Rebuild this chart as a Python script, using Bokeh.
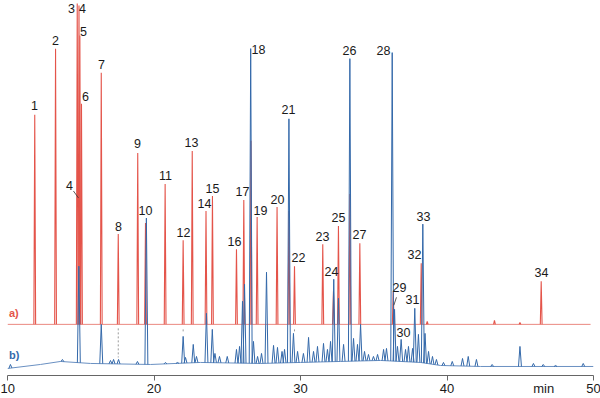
import numpy as np
from bokeh.plotting import figure
from bokeh.models import FixedTicker, LinearAxis
from bokeh.core.properties import value
from bokeh.embed import file_html
from bokeh.resources import INLINE

# ---------------- data (retention time in min, detector signal in arbitrary units) -------------
# chromatogram a) (red), peaks above its own baseline
red_base = 51
red_t = [11.86, 13.28, 14.76, 14.88, 14.94, 15.05, 16.40, 17.56, 18.89, 19.42, 20.76, 21.99,
         22.61, 23.55, 23.99, 25.63, 26.13, 26.62, 27.04, 28.40, 29.21, 29.59, 31.52, 32.25,
         32.59, 33.37, 34.05, 36.33, 38.24, 38.65, 43.24, 44.98, 46.43]
red_h = [209, 275, 320, 318, 288, 220, 251, 90, 171, 101, 140, 84,
         173, 113, 128, 75, 124, 183, 107, 117, 113, 58, 80, 33,
         98, 130, 81, 33, 61, 3, 4, 2, 43]
red_end = 49.8

# chromatogram b) (blue): drifting baseline and peak apex levels
blue_base_t = [10.0, 12.25, 13.62, 15.67, 19.76, 23.17, 27.27, 30.0, 32.73, 35.46, 38.19, 39.56, 42.29, 50.0]
blue_base_y = [7, 11, 14, 12, 11, 13, 12, 13, 14, 15, 13, 10, 9, 9]
blue_t = [10.2, 13.75, 14.87, 16.40, 17.03, 17.24, 17.58, 18.87, 19.48, 20.78, 21.6, 21.99,
          22.15, 22.68, 22.9, 23.58, 23.98, 24.16, 24.47, 25.0, 25.63, 25.84, 26.04, 26.18,
          26.60, 26.79, 27.07, 27.34, 27.68, 28.16, 28.43, 28.74, 28.91, 29.21, 29.52, 29.8,
          30.2, 30.55, 30.89, 31.16, 31.57, 31.84, 32.05, 32.27, 32.59, 32.94, 33.37, 33.62,
          33.89, 34.10, 34.37, 34.64, 34.98, 35.26, 35.67, 35.87, 36.26, 36.42, 36.62, 36.87,
          37.17, 37.37, 37.65, 37.80, 38.05, 38.35, 38.5, 38.74, 39.01, 39.28, 39.76, 40.36,
          41.06, 41.45, 42.01, 43.08, 44.98, 45.9, 46.57, 47.41, 49.30]
blue_apex = [11, 16, 109, 51, 15, 16, 16, 14, 157, 13, 13, 39,
             18, 31, 19, 62, 46, 22, 19, 19, 26, 29, 74, 91,
             326, 34, 19, 22, 103, 30, 28, 24, 26, 256, 42, 24,
             22, 38, 24, 29, 32, 26, 34, 96, 77, 31, 316, 37,
             31, 51, 24, 21, 19, 21, 26, 27, 322, 66, 29, 36,
             26, 29, 27, 67, 41, 151, 42, 24, 19, 16, 13, 14,
             17, 19, 16, 11, 29, 12, 11, 10, 12]

# peak labels
label_text = ["1", "2", "3", "4", "5", "6", "4", "7", "8", "9", "10", "11", "12", "13", "14", "15",
              "16", "17", "18", "19", "20", "21", "22", "23", "24", "25", "26", "27", "28", "29",
              "30", "31", "32", "33", "34"]
label_t = [11.84, 13.28, 14.37, 15.12, 15.19, 15.32, 14.23, 16.42, 17.58, 18.87, 19.42, 20.78,
           22.01, 22.56, 23.45, 23.99, 25.49, 26.04, 27.13, 27.27, 28.43, 29.18, 29.86, 31.50,
           32.12, 32.59, 33.34, 34.03, 35.67, 36.76, 37.03, 37.65, 37.78, 38.40, 46.45]
label_y = [269, 334, 366, 366, 343, 278, 189, 310, 149, 231, 165, 199,
           143, 232, 172, 187, 134, 184, 325, 165, 176, 265, 118, 139,
           104, 158, 324, 141, 324, 88, 43, 76, 121, 159, 103]

# leader lines (peak 4 and peak 29) and dashed markers between traces
leader_x0 = [14.50, 36.55]
leader_y0 = [184, 78]
leader_x1 = [14.85, 36.37]
leader_y1 = [177, 70]
mark_t = [17.56, 21.99, 29.59]
mark_y0 = [47, 44, 44]
mark_y1 = [18, 48, 48]

ticks = [10, 20, 30, 40, 50]
unit_pos = 46.6
unit_text = "min"

RED = "#e4544a"
RED_LIGHT = "#ea8880"
BLUE = "#3469aa"
BLUE_LIGHT = "#6a90c2"
FONT = "Liberation Sans"

p = figure(width=600, height=398, x_range=(10, 50), y_range=(0, 374),
           output_backend="svg", toolbar_location=None, y_axis_location=None,
           x_axis_location=None,
           min_border_left=7, min_border_right=7, min_border_top=0, min_border_bottom=20)
p.grid.visible = False
p.outline_line_color = None

# red trace
w_r = 0.06
p.line([10.0, red_end], [red_base, red_base], line_color=RED_LIGHT, line_width=1)
p.multi_line([[t - w_r, t, t + w_r] for t in red_t],
             [[red_base, red_base + h, red_base] for h in red_h],
             line_color=RED, line_width=1.1)

# blue trace
w_b = 0.1
p.line(blue_base_t, blue_base_y, line_color=BLUE_LIGHT, line_width=1)
bx, by = [], []
for t, a in zip(blue_t, blue_apex):
    bx.append([t - w_b, t, t + w_b])
    by.append([float(np.interp(t - w_b, blue_base_t, blue_base_y)), a,
               float(np.interp(t + w_b, blue_base_t, blue_base_y))])
p.multi_line(bx, by, line_color=BLUE, line_width=1)

# dashed markers and leaders
p.segment(x0=mark_t, y0=mark_y0, x1=mark_t, y1=mark_y1, line_color="#9a9a9a",
          line_width=1, line_dash="2 2")
p.segment(x0=leader_x0, y0=leader_y0, x1=leader_x1, y1=leader_y1, line_color="#333333", line_width=0.8)

# labels
p.text(x=label_t, y=label_y, text=label_text, text_font=value(FONT),
       text_font_size=value("12.5px"), text_align="center", text_baseline="middle",
       text_color="#1a1a1a")
p.text(x=[10.1], y=[62], text=["a)"], text_font=value(FONT), text_font_size=value("11px"),
       text_font_style="bold", text_align="left", text_baseline="middle", text_color=RED)
p.text(x=[10.1], y=[20], text=["b)"], text_font=value(FONT), text_font_size=value("11px"),
       text_font_style="bold", text_align="left", text_baseline="middle", text_color=BLUE)

# x axis: line + ticks
ax = LinearAxis(ticker=FixedTicker(ticks=ticks))
ax.minor_tick_line_color = None
ax.axis_line_color = "#666666"
ax.major_tick_line_color = "#666666"
ax.major_tick_out = 5
ax.major_tick_in = 0
ax.major_label_standoff = 0
ax.major_label_text_font_size = "0px"
ax.major_label_overrides = {t: "" for t in ticks}
p.add_layout(ax, "below")

# x axis labels (tick values and unit)
lab_ticks = ticks + [unit_pos]
ax2 = LinearAxis(ticker=FixedTicker(ticks=lab_ticks))
ax2.axis_line_color = None
ax2.major_tick_line_color = None
ax2.minor_tick_line_color = None
ax2.major_tick_out = 0
ax2.major_tick_in = 0
ax2.major_label_standoff = 0
ax2.major_label_text_font = FONT
ax2.major_label_text_font_size = "13px"
ax2.major_label_text_color = "#1a1a1a"
ax2.major_label_overrides = {unit_pos: unit_text}
p.add_layout(ax2, "below")

open("out.html", "w").write(file_html(p, INLINE))
